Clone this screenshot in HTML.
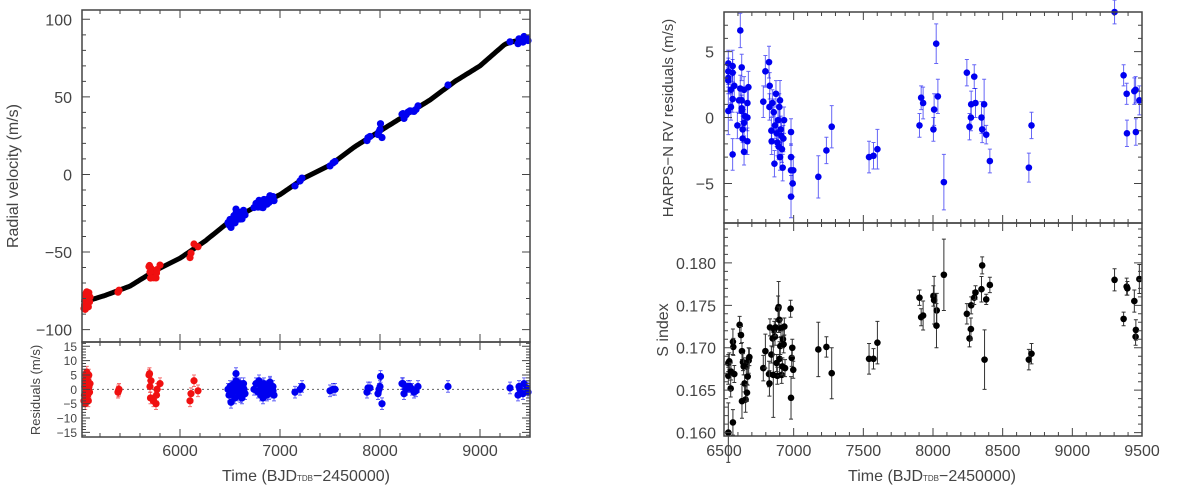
<!DOCTYPE html>
<html><head><meta charset="utf-8">
<style>
html,body{margin:0;padding:0;background:#fff;}
svg{display:block;font-family:"Liberation Sans",sans-serif;}
text{fill:#444;}
</style></head>
<body>
<svg id="fig" width="1200" height="489" viewBox="0 0 1200 489" xmlns="http://www.w3.org/2000/svg"></svg>
<script>
// ---- Model curve knots (time, RV m/s)
const modelT=[5020,5050,5250,5500,5750,6000,6250,6500,6750,7000,7250,7500,7750,8000,8250,8500,8750,9000,9250,9350,9450,9500];
const modelV=[-83,-82,-78,-72,-62,-54,-43,-30,-21,-13,-2,6,18,28,38,48,60,70,84,86,87,87.5];
// ---- Left RV residuals: times, residuals, instrument (0=red HARPS, 1=blue HARPS-N)
const rvT=[5040,5045,5048,5050,5052,5055,5058,5060,5062,5065,5068,5070,5072,5075,5078,5080,5083,5085,5088,5090,5095,5100,
5380,5385,5390,
5690,5695,5700,5705,5710,5735,5760,5765,5770,5800,
6100,6110,6140,6180,
6480,6490,6500,6510,6520,6530,6540,6550,6560,6570,6580,6590,6600,6610,6620,6630,6640,6650,6560,6575,6590,6605,6620,6635,
6740,6760,6780,6790,6800,6810,6820,6830,6840,6850,6860,6870,6880,6890,6900,6910,6920,6930,6940,6790,6820,6850,6870,6900,6930,
7150,7200,7220,
7500,7530,7550,
7870,7880,7900,7980,7990,8000,8005,8020,
8220,8230,8240,8260,8280,8300,8320,8340,8360,8380,
8680,
9300,9380,9390,9400,9430,9440,9470,9480];
const rvR=[-4,-2,1,3,-5,2,5,-1,0,4,6,-3,1,2,-2,3,-4,0,5,1,-1,2,
-1,-0.5,0,
5,5.5,1,-3,3,-4,-5,-2,0,2,
-4,-1.5,3,-0.5,
0,-2,1,-4.5,0.5,-1,2,-3,5.5,1,0,-2,2,-1,-3,1,0,-1.5,3,-0.5,1.5,-2.5,0.5,2,
0,2,-1,3,0,-2,1,-3,2,-1,0.5,-2,1,-1.5,2.5,0,-1,1,-2,-0.5,1.5,-1,0,2,-0.5,
-1,0,1,
-0.5,0,0,
-1,0.5,0.5,-1.5,0,1,4.5,-5,
2,2,-1.5,0,1,1,0,-1,-0.5,1,
1,
0.5,-2,1,0,-1.5,2,0.5,-1];
const rvI=[0,0,0,0,0,0,0,0,0,0,0,0,0,0,0,0,0,0,0,0,0,0,0,0,0,0,0,0,0,0,0,0,0,0,0,0,0,0,0,
1,1,1,1,1,1,1,1,1,1,1,1,1,1,1,1,1,1,1,1,1,1,1,1,1,1,1,1,1,1,1,1,1,1,1,1,1,1,1,1,1,1,1,1,1,1,1,1,1,1,1,1,1,1,1,1,1,1,1,1,1,1,1,1,1,1,1,1,1,1,1,1,1,1,1,1,1,1,1,1,1,1,1,1,1,1];
// ---- HARPS-N residuals (right top)
const hnT=[6531,6531,6531,6531,6531,6550,6562,6562,6562,6574,6562,6550,6617,6627,6617,6627,6627,6627,6634,6634,6644,6644,6644,6651,6668,6668,6668,6675,6596,6608,
6782,6797,6823,6828,6826,6840,6842,6847,6857,6862,6866,6873,6878,6883,6888,6892,6897,6902,6902,6907,6912,6916,6921,6926,6931,6981,6981,6981,6981,6993,6997,
7177,7235,7273,7541,7573,7601,
7903,7915,7929,8003,8008,8023,8035,8078,
8243,8262,8272,8274,8296,8305,8348,8353,8367,8382,8408,
8688,8707,
9303,9368,9390,9392,9445,9454,9456,9481];
const hnV=[4.1,3.5,3.0,2.8,0.5,2.1,3.9,3.4,1.4,2.4,-2.8,0.8,6.6,3.8,2.2,1.3,0.7,0.5,-0.9,-1.6,2.1,-0.4,-2.6,0.1,1.1,0.0,-1.8,2.3,-0.6,1.3,
1.2,3.5,4.2,2.4,0.8,-1.0,-1.8,1.1,0.4,-3.5,-0.6,1.8,-1.2,-1.9,-0.2,-2.2,0.8,1.3,-3.0,-0.9,-1.4,-2.4,-3.8,-1.6,-0.2,-1.1,-3.0,-4.0,-6.0,-5.0,-4.0,
-4.5,-2.5,-0.7,-3.0,-2.9,-2.4,
-0.6,1.5,1.1,-0.9,0.6,5.6,1.6,-4.9,
3.4,-0.7,0.0,1.0,3.1,1.1,0.0,-0.9,1.0,-1.3,-3.3,
-3.8,-0.6,
8.0,3.2,1.8,-1.2,2.0,2.1,-1.1,1.3];
const hnE=[1,1,1,1,1.8,1,1.2,1,1,1,1.2,1,1.3,1,1,1,1,1,1,1,1,1,1,1,1,1,1,1.2,1,1,
1.2,1.2,1.2,1,1,1,1,1,1,1,1,1,1,1,1,1,1,1.5,1,1,1,1,1,1,1,1,1,1,1.6,1,1,
1.6,1,1.6,1.2,1,1.5,
0.9,0.9,1.2,0.9,1.2,1.5,1.3,2.1,
1,1,1,1,0.9,1.1,1.2,1,1.9,0.7,0.9,
1.1,1,
0.9,0.8,0.8,1,1,1,1,1.1];
// ---- S index (right bottom)
const sT=[6531,6531,6531,6538,6548,6550,6564,6567,6564,6574,6612,6622,6629,6629,6636,6641,6648,6655,6660,6665,6670,6677,6682,
6782,6797,6823,6826,6830,6840,6849,6854,6861,6866,6870,6878,6883,6888,6892,6897,6899,6904,6909,6914,6919,6923,6928,6933,6938,6978,6981,6986,6990,6997,
7177,7235,7273,7541,7573,7601,
7903,7915,7929,8003,8008,8027,8025,8078,
8243,8262,8272,8274,8296,8305,8348,8353,8370,8382,8408,
8688,8707,
9303,9368,9390,9395,9445,9454,9456,9481];
const sV=[0.1600,0.1682,0.1667,0.1684,0.1652,0.1672,0.1707,0.1701,0.1612,0.1669,0.1727,0.1715,0.1637,0.1696,0.1683,0.1678,0.1658,0.1639,0.1678,0.1647,0.1666,0.1685,0.1689,
0.1676,0.1696,0.1669,0.1658,0.1724,0.1692,0.1711,0.1668,0.1721,0.1713,0.1724,0.1682,0.1667,0.1746,0.1748,0.1733,0.1687,0.1702,0.1723,0.1668,0.1678,0.1710,0.1704,0.1725,0.1676,0.1746,0.1641,0.1688,0.1700,0.1674,
0.1698,0.1701,0.1670,0.1687,0.1687,0.1706,
0.1759,0.1736,0.1738,0.1761,0.1756,0.1744,0.1726,0.1786,
0.1740,0.1711,0.1722,0.1750,0.1759,0.1765,0.1769,0.1797,0.1686,0.1757,0.1774,
0.1686,0.1693,
0.1780,0.1734,0.1772,0.1770,0.1755,0.1713,0.1721,0.1781];
const sE=[0.0035,0.001,0.001,0.001,0.001,0.001,0.0015,0.001,0.0015,0.001,0.001,0.001,0.002,0.001,0.001,0.001,0.001,0.0015,0.001,0.001,0.001,0.0015,0.001,
0.0015,0.002,0.0015,0.0015,0.001,0.001,0.001,0.005,0.001,0.001,0.001,0.001,0.001,0.0015,0.003,0.0015,0.002,0.001,0.001,0.001,0.001,0.001,0.001,0.001,0.001,0.001,0.0025,0.001,0.001,0.001,
0.0032,0.0012,0.003,0.0018,0.0012,0.0025,
0.0009,0.001,0.0017,0.0012,0.0028,0.002,0.0026,0.0042,
0.0012,0.001,0.0013,0.001,0.0008,0.0008,0.0015,0.001,0.0035,0.0006,0.0009,
0.0012,0.0012,
0.0013,0.0008,0.001,0.0008,0.0013,0.001,0.0012,0.0017];

const NS="http://www.w3.org/2000/svg";
const svg=document.getElementById('fig');
function mk(tag,attrs,parent){const e=document.createElementNS(NS,tag);for(const k in attrs)e.setAttribute(k,attrs[k]);(parent||svg).appendChild(e);return e;}
function lin(d0,d1,r0,r1){return v=>r0+(v-d0)*(r1-r0)/(d1-d0);}
function interp(t){for(let i=0;i<modelT.length-1;i++){if(t<=modelT[i+1]){const f=(t-modelT[i])/(modelT[i+1]-modelT[i]);return modelV[i]+f*(modelV[i+1]-modelV[i]);}}return modelV[modelV.length-1];}

// Panel geometry
const L={x0:82,x1:530,yTop:10,yMid:342,yBot:437};
const R={x0:724,x1:1142,yTop:12,yMid:223,yBot:436};
const xL=lin(5020,9500,L.x0,L.x1);
const yMain=lin(-108,106,L.yMid,L.yTop);
const yRes=lin(-16.6,16.5,L.yBot,L.yMid);
const xR=lin(6500,9500,R.x0,R.x1);
const yHN=lin(-8,8,R.yMid,R.yTop);
const yS=lin(0.1596,0.1847,R.yBot,R.yMid);

function ticks(g,x0,x1,y0,y1,xmin,xmax,xmaj,xmin_,xs,ymin,ymax,ymaj,ymin_,ys){
  const p=[];
  for(let v=Math.ceil(xmin/xmin_)*xmin_;v<=xmax+1e-9;v+=xmin_){const X=xs(v);const maj=Math.abs(v/xmaj-Math.round(v/xmaj))<1e-6;const L2=maj?8:4;p.push(`M${X},${y1}v${-L2}M${X},${y0}v${L2}`);}
  for(let v=Math.ceil(ymin/ymin_-1e-6)*ymin_;v<=ymax+1e-9;v+=ymin_){const Y=ys(v);const maj=Math.abs(v/ymaj-Math.round(v/ymaj))<1e-6;const L2=maj?8:4;p.push(`M${x0},${Y}h${L2}M${x1},${Y}h${-L2}`);}
  mk('path',{d:p.join(''),stroke:'#444','stroke-width':1,fill:'none'},g);
}
function frame(g,x0,y0,x1,y1){mk('rect',{x:x0,y:y0,width:x1-x0,height:y1-y0,fill:'none',stroke:'#444','stroke-width':1.5},g);}
function txt(g,x,y,s,size,anchor,rot){const t=mk('text',{x:x,y:y,'font-size':size,'text-anchor':anchor||'middle'},g);if(rot)t.setAttribute('transform',`rotate(-90 ${x} ${y})`);t.textContent=s;return t;}

// ===== Left main panel
const gL=mk('g',{});


// model curve
let d='';
for(let t=5020;t<=9500;t+=20){d+=(d?'L':'M')+xL(t).toFixed(1)+','+yMain(interp(t)).toFixed(1);}
const mc=mk('path',{d:d,stroke:'#000','stroke-width':5,fill:'none','stroke-linejoin':'round'},gL);


// rv points
for(let i=0;i<rvT.length;i++){
  const col=rvI[i]?'#0000f0':'#f01010';
  const X=xL(rvT[i]),Y=yMain(interp(rvT[i])+rvR[i]);
  const c=mk('circle',{cx:X,cy:Y,r:3.6,fill:col},gL);
  
  
}
ticks(gL,L.x0,L.x1,L.yTop,L.yMid,5020,9500,1000,200,xL,-108,106,50,10,yMain);
frame(gL,L.x0,L.yTop,L.x1,L.yMid);
[100,50,0,-50,-100].forEach(v=>{const t=txt(gL,72,yMain(v)+6,(v<0?'−':'')+Math.abs(v),16,'end');});
const yt1=txt(gL,18,176,'Radial velocity (m/s)',16,'middle',true);



// ===== Left residual panel
const gLR=mk('g',{});


mk('line',{x1:L.x0,x2:L.x1,y1:yRes(0),y2:yRes(0),stroke:'#666','stroke-dasharray':'2,3','stroke-width':1},gLR);
for(let i=0;i<rvT.length;i++){
  const col=rvI[i]?'#0000f0':'#f01010';
  const X=xL(rvT[i]),Y=yRes(rvR[i]),e=2*2.9;
  mk('path',{d:`M${X},${Y-e}V${Y+e}M${X-2},${Y-e}h4M${X-2},${Y+e}h4`,stroke:col,'stroke-opacity':0.6,'stroke-width':1},gLR);
  const c=mk('circle',{cx:X,cy:Y,r:3.6,fill:col},gLR);
  
  
}
ticks(gLR,L.x0,L.x1,L.yMid,L.yBot,5020,9500,1000,200,xL,-16,16,5,1,yRes);
frame(gLR,L.x0,L.yMid,L.x1,L.yBot);
[15,10,5,0,-5,-10,-15].forEach(v=>{const t=txt(gLR,77,yRes(v)+4.5,(v<0?'−':'')+Math.abs(v),12,'end');});
const yt2=txt(gLR,40,390,'Residuals (m/s)',13,'middle',true);


[6000,7000,8000,9000].forEach(v=>{const t=txt(gLR,xL(v),456,String(v),16);});
function xtitle(g,cx,y){const t=mk('text',{x:cx,y:y,'font-size':16,'text-anchor':'middle'},g);
 t.innerHTML='Time  (BJD<tspan font-size="8">TDB</tspan>−2450000)';
 }
xtitle(gLR,306,481);

// ===== Right top panel
const gRT=mk('g',{});


for(let i=0;i<hnT.length;i++){
  const X=xR(hnT[i]),Y=yHN(hnV[i]),e=hnE[i]*13.2;
  mk('path',{d:`M${X},${Y-e}V${Y+e}M${X-2},${Y-e}h4M${X-2},${Y+e}h4`,stroke:'#0000f0','stroke-opacity':0.6,'stroke-width':1},gRT);
  const c=mk('circle',{cx:X,cy:Y,r:3.3,fill:'#0000f0'},gRT);
  
  
}
ticks(gRT,R.x0,R.x1,R.yTop,R.yMid,6500,9500,500,100,xR,-8,8,5,1,yHN);
frame(gRT,R.x0,R.yTop,R.x1,R.yMid);
[5,0,-5].forEach(v=>{const t=txt(gRT,714,yHN(v)+6,(v<0?'−':'')+Math.abs(v),16,'end');});
const yt3=txt(gRT,673,118,'HARPS−N RV residuals (m/s)',15,'middle',true);



// ===== Right bottom panel
const gRB=mk('g',{});


for(let i=0;i<sT.length;i++){
  const X=xR(sT[i]),Y=yS(sV[i]),e=sE[i]*8500;
  mk('path',{d:`M${X},${Y-e}V${Y+e}M${X-2},${Y-e}h4M${X-2},${Y+e}h4`,stroke:'#333','stroke-width':1},gRB);
  const c=mk('circle',{cx:X,cy:Y,r:3.3,fill:'#000'},gRB);
  
  
}
ticks(gRB,R.x0,R.x1,R.yMid,R.yBot,6500,9500,500,100,xR,0.1596,0.1847,0.005,0.001,yS);
frame(gRB,R.x0,R.yMid,R.x1,R.yBot);
[0.180,0.175,0.170,0.165,0.160].forEach(v=>{const t=txt(gRB,716,yS(v)+6,v.toFixed(3),16,'end');});
const yt4=txt(gRB,668,330,'S index',16,'middle',true);


[6500,7000,7500,8000,8500,9000,9500].forEach(v=>{const t=txt(gRB,xR(v),456,String(v),16);});
xtitle(gRB,932,481);
</script>
</body></html>
